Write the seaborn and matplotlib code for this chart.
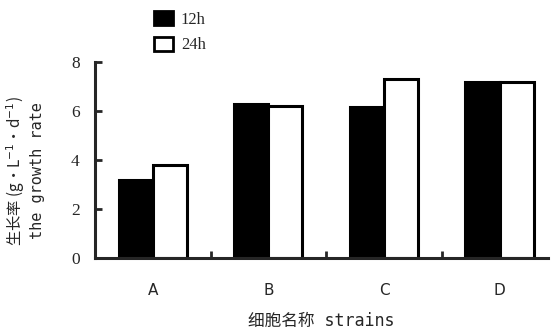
import matplotlib
matplotlib.use("Agg")
import matplotlib.pyplot as plt
import seaborn as sns
import pandas as pd
from matplotlib.patches import Patch

strains = ["A", "B", "C", "D"]
rate_12h = [3.2, 6.3, 6.15, 7.2]
rate_24h = [3.8, 6.2, 7.3, 7.2]
periods = ["12h", "24h"]
yticks = [0, 2, 4, 6, 8]

df = pd.DataFrame({
    "strain": strains * 2,
    "rate": rate_12h + rate_24h,
    "period": [periods[0]] * 4 + [periods[1]] * 4,
})

sns.set_theme(style="ticks")
plt.rcParams["font.family"] = ["Liberation Serif", "Noto Sans CJK SC"]

fig = plt.figure(figsize=(5.57, 3.35), dpi=100)
ax = fig.add_axes([0.1706, 0.2299, 0.8134, 0.5851])

sns.barplot(data=df, x="strain", y="rate", hue="period", order=strains,
            hue_order=periods, palette=["black", "white"], width=0.59,
            edgecolor="black", linewidth=2.2, saturation=1, ax=ax,
            legend=False)

ax.set_xlim(-0.5, 3.42)
ax.set_ylim(0, 8)
ax.set_yticks(yticks)
ax.set_yticklabels([str(v) for v in yticks], fontsize=12.5)

# category labels, with small upward ticks between groups
ax.set_xticks(range(4))
ax.set_xticklabels(strains, fontsize=11,
                   family=["Liberation Sans Narrow", "DejaVu Sans"])
ax.tick_params(axis="x", length=0, pad=18)
ax.set_xticks([0.5, 1.5, 2.5], minor=True)
ax.tick_params(axis="x", which="minor", direction="in", length=5, width=2)
ax.tick_params(axis="y", direction="in", length=5, width=2, pad=11)

for side in ["top", "right"]:
    ax.spines[side].set_visible(False)
for side in ["left", "bottom"]:
    ax.spines[side].set_linewidth(2.2)

ax.set_xlabel("细胞名称 strains", fontsize=12,
              family=["DejaVu Sans Mono", "Noto Sans CJK SC"], labelpad=10)
ax.set_ylabel("")
fig.text(0.028, 0.49, "生长率 (g·L$^{-1}$·d$^{-1}$)", rotation=90,
         ha="center", va="center", fontsize=11,
         family=["Noto Sans CJK SC", "DejaVu Serif"])
fig.text(0.068, 0.49, "the growth rate", rotation=90, ha="center",
         va="center", fontsize=11, family=["DejaVu Sans Mono"])

handles = [Patch(facecolor="black", edgecolor="black", linewidth=2),
           Patch(facecolor="white", edgecolor="black", linewidth=2)]
fig.legend(handles, periods, loc="upper left",
           bbox_to_anchor=(0.25, 1.012), frameon=False, fontsize=12,
           handlelength=1.1, handleheight=0.9, handletextpad=0.5,
           labelspacing=0.55)

fig.savefig("out.png", dpi=100)
